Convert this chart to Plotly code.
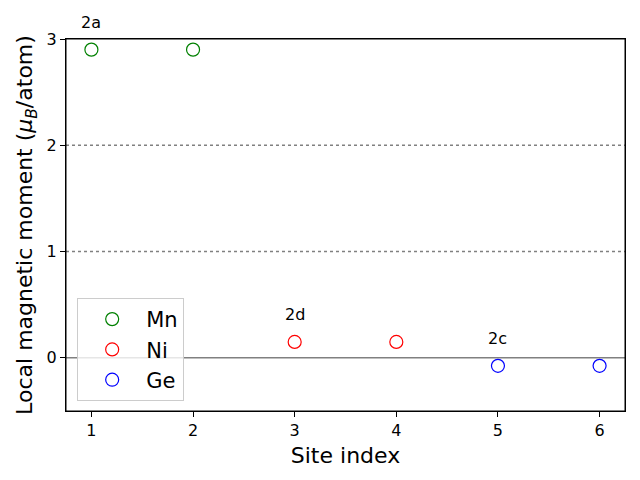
import plotly.graph_objects as go

series_names = ["Mn", "Ni", "Ge"]
series_colors = ["green", "red", "blue"]
site_x = [[1, 2], [3, 4], [5, 6]]
moments = [[2.90, 2.90], [0.15, 0.15], [-0.075, -0.075]]
wyckoff_labels = ["2a", "2d", "2c"]
wyckoff_x = [1, 3, 5]
wyckoff_y = [2.90, 0.15, -0.075]
grid_levels = [1, 2]

FONT = "DejaVu Sans"
fig = go.Figure()
for name, col, xs, ys in zip(series_names, series_colors, site_x, moments):
    fig.add_trace(go.Scatter(
        x=xs, y=ys, mode="markers", name=name, cliponaxis=False,
        marker=dict(symbol="circle-open", size=13, color=col, line=dict(width=1.2, color=col)),
    ))

for g in grid_levels:
    fig.add_shape(type="line", xref="paper", x0=0, x1=1, yref="y", y0=g, y1=g,
                  line=dict(color="gray", width=1.5, dash="dot"), layer="below")
fig.add_shape(type="line", xref="paper", x0=0, x1=1, yref="y", y0=0, y1=0,
              line=dict(color="gray", width=1.5), layer="below")
fig.add_shape(type="rect", xref="paper", yref="paper", x0=0, x1=1, y0=0, y1=1,
              line=dict(color="black", width=1), fillcolor="rgba(0,0,0,0)", layer="above")

for t, xv, yv in zip(wyckoff_labels, wyckoff_x, wyckoff_y):
    fig.add_annotation(x=xv, y=yv, text=t, showarrow=False, yshift=27,
                       font=dict(family=FONT, size=16, color="black"))

axis_common = dict(showline=True, linecolor="black", linewidth=1, mirror=True,
                   ticks="outside", ticklen=5, tickcolor="black", showgrid=False,
                   zeroline=False, automargin=False,
                   tickfont=dict(family=FONT, size=16, color="black"))
fig.update_xaxes(range=[0.75, 6.25], tickvals=[1, 2, 3, 4, 5, 6],
                 title=dict(text="Site index", font=dict(family=FONT, size=22, color="black"), standoff=8),
                 **axis_common)
fig.update_yaxes(range=[-0.5, 3.0], tickvals=[0, 1, 2, 3],
                 title=dict(text="Local magnetic moment (<i>μ</i><sub><i>B</i></sub>/atom)",
                            font=dict(family=FONT, size=22, color="black"), standoff=7),
                 **axis_common)

fig.update_layout(
    width=640, height=480,
    margin=dict(l=66, r=15, t=39, b=69),
    plot_bgcolor="white", paper_bgcolor="white",
    font=dict(family=FONT, color="black"),
    legend=dict(x=0.02, y=0.027, xanchor="left", yanchor="bottom",
                bgcolor="rgba(255,255,255,0.8)", bordercolor="#cccccc", borderwidth=1,
                font=dict(family=FONT, size=21, color="black"), itemwidth=58,
                tracegroupgap=0),
)
fig.write_html("out.html", config={"displayModeBar": False})

with open("out.html", "r", encoding="utf-8") as f:
    html = f.read()
html = html.replace("<head>", "<head><style>html,body{margin:0;padding:0;overflow:hidden;}</style>", 1)
with open("out.html", "w", encoding="utf-8") as f:
    f.write(html)
